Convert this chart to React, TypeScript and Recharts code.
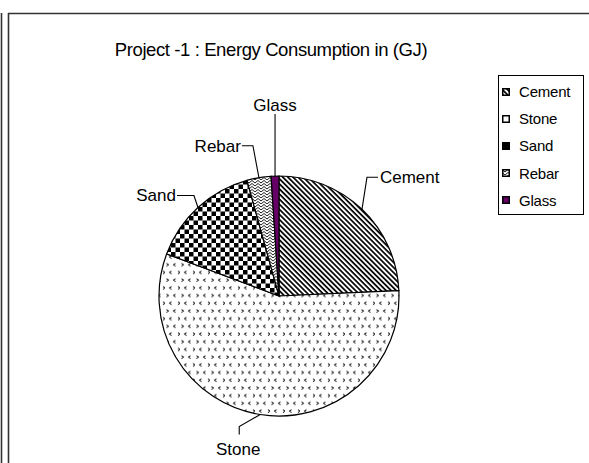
import { PieChart, Pie, Cell, Legend } from "recharts";

const CATEGORIES = ["Cement", "Stone", "Sand", "Rebar", "Glass"];
const ENERGY_GJ = [24.3, 56.4, 15.0, 3.25, 1.05];
const TITLE = "Project -1 : Energy Consumption in (GJ)";

const FILLS: Record<string, string> = {
  Cement: "url(#hatchCement)",
  Stone: "url(#dotStone)",
  Sand: "url(#checkSand)",
  Rebar: "url(#weaveRebar)",
  Glass: "#660066",
};

// the legend swatches are too small to show the patterns, so some read as flat
const SWATCHES: Record<string, string> = {
  Cement: "url(#hatchCement)",
  Stone: "#fff",
  Sand: "#000",
  Rebar: "url(#weaveRebar)",
  Glass: "#660066",
};

// leader lines: elbow offset from rim point, stub, then text offset
const LEADERS: Record<string, { dx: number; dy: number; sx: number; sy: number; tx: number; ty: number; anchor: "start" | "middle" | "end" }> = {
  Cement: { dx: 5, dy: -32, sx: 11, sy: 0, tx: 2, ty: 0, anchor: "start" },
  Glass: { dx: 0, dy: -62, sx: 0, sy: 0, tx: 0, ty: -9, anchor: "middle" },
  Rebar: { dx: -6, dy: -32, sx: -11, sy: 0, tx: -1, ty: 1, anchor: "end" },
  Sand: { dx: -4, dy: -12, sx: -17, sy: 0, tx: -1, ty: 0, anchor: "end" },
  Stone: { dx: -21, dy: 12, sx: 0, sy: 8, tx: -1, ty: 15, anchor: "middle" },
};

const FONT = '"Liberation Sans", Arial, sans-serif';
const RAD = Math.PI / 180;

const data = CATEGORIES.map((name, i) => ({ name, value: ENERGY_GJ[i] }));

function renderLabel(props: any) {
  const { cx, cy, midAngle, outerRadius } = props;
  const name = props.payload?.name ?? props.name;
  const cfg = LEADERS[name];
  const ex = cx + outerRadius * Math.cos(-midAngle * RAD);
  const ey = cy + outerRadius * Math.sin(-midAngle * RAD);
  const kx = ex + cfg.dx;
  const ky = ey + cfg.dy;
  const sx = kx + cfg.sx;
  const sy = ky + cfg.sy;
  return (
    <g key={name}>
      <polyline points={`${ex},${ey} ${kx},${ky} ${sx},${sy}`} fill="none" stroke="#000" strokeWidth={1.1} />
      <text x={sx + cfg.tx} y={sy + cfg.ty} textAnchor={cfg.anchor} dominantBaseline="central" fontSize={17} fontFamily={FONT} fill="#000">
        {name}
      </text>
    </g>
  );
}

function renderLegend() {
  return (
    <div style={{ border: "1px solid #000", width: 86, height: 140, boxSizing: "border-box", paddingTop: 2, background: "#fff" }}>
      {CATEGORIES.map((name) => (
        <div key={name} style={{ display: "flex", alignItems: "center", height: 27.2, paddingLeft: 3 }}>
          <svg width={8} height={8} style={{ flexShrink: 0 }}>
            <rect x={0.75} y={0.75} width={6.5} height={6.5} fill={SWATCHES[name]} stroke="#000" strokeWidth={1.5} />
          </svg>
          <span style={{ marginLeft: 9, fontSize: 15, fontFamily: FONT, color: "#000", letterSpacing: -0.2 }}>{name}</span>
        </div>
      ))}
    </div>
  );
}

export default function App() {
  return (
    <div style={{ position: "absolute", left: 0, top: 0, width: 589, height: 463, background: "#fff", overflow: "hidden" }}>
      <svg width={0} height={0} style={{ position: "absolute" }}>
        <defs>
          <pattern id="hatchCement" patternUnits="userSpaceOnUse" width={3.6} height={3.6} patternTransform="rotate(45)">
            <rect width={3.6} height={3.6} fill="#fff" />
            <rect width={3.6} height={1.7} fill="#000" />
          </pattern>
          <pattern id="checkSand" patternUnits="userSpaceOnUse" width={9} height={9}>
            <rect width={9} height={9} fill="#fff" />
            <rect width={4.5} height={4.5} fill="#000" />
            <rect x={4.5} y={4.5} width={4.5} height={4.5} fill="#000" />
          </pattern>
          <pattern id="dotStone" patternUnits="userSpaceOnUse" width={15} height={15.4}>
            <rect width={15} height={15.4} fill="#fff" />
            <path
              d="M1.5,1.5 L3.5,3 L1.5,4.5 M10.5,1.5 L8.5,3 L10.5,4.5 M6.5,9.2 L4.5,10.7 L6.5,12.2 M13,9.2 L15,10.7 L13,12.2"
              fill="none"
              stroke="#111"
              strokeWidth={1}
            />
          </pattern>
          <pattern id="weaveRebar" patternUnits="userSpaceOnUse" width={6} height={6}>
            <rect width={6} height={6} fill="#fff" />
            <path d="M0,0.5 L3,3 L6,0.5 M0,3.5 L3,6 L6,3.5" fill="none" stroke="#000" strokeWidth={0.9} />
          </pattern>
        </defs>
      </svg>

      <div
        style={{
          position: "absolute",
          left: 0,
          top: 39,
          width: 542,
          textAlign: "center",
          fontFamily: FONT,
          fontSize: 18.5,
          lineHeight: "21px",
          letterSpacing: -0.4,
          color: "#000",
        }}
      >
        {TITLE}
      </div>

      <PieChart width={589} height={463} style={{ position: "absolute", left: 0, top: 0 }}>
        <Pie
          data={data}
          dataKey="value"
          nameKey="name"
          cx={274}
          cy={291}
          outerRadius={120}
          startAngle={90}
          endAngle={-270}
          stroke="#000"
          strokeWidth={1.2}
          label={renderLabel}
          labelLine={false}
          isAnimationActive={false}
        >
          {data.map((d) => (
            <Cell key={d.name} fill={FILLS[d.name]} />
          ))}
        </Pie>
        <Legend
          layout="vertical"
          align="right"
          verticalAlign="top"
          content={renderLegend}
          wrapperStyle={{ position: "absolute", left: 498, top: 75, width: 87 }}
        />
      </PieChart>

      <svg width={589} height={463} style={{ position: "absolute", left: 0, top: 0, pointerEvents: "none" }}>
        <line x1={1.5} y1={13} x2={1.5} y2={463} stroke="#333" strokeWidth={1.6} />
        <line x1={8.5} y1={13} x2={8.5} y2={463} stroke="#333" strokeWidth={1.6} />
        <line x1={8} y1={13.5} x2={589} y2={13.5} stroke="#333" strokeWidth={1.6} />
      </svg>
    </div>
  );
}
